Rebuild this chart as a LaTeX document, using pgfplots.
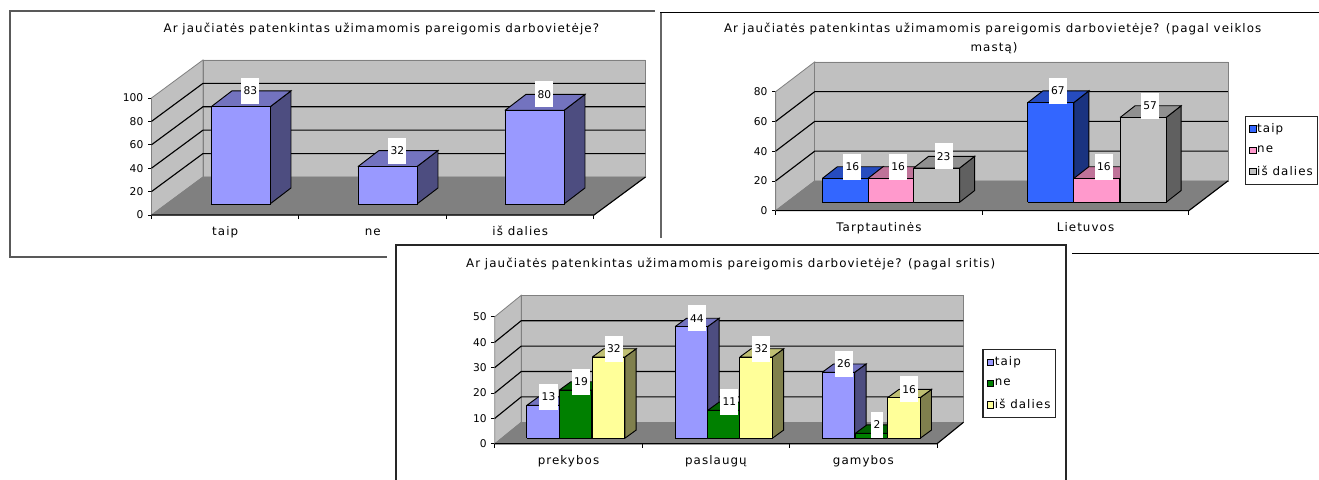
\documentclass[border=0pt]{standalone}
\usepackage{pgfplots}
\pgfplotsset{compat=1.18}
\usepackage{fontspec}
\setmainfont{DejaVu Sans}
\newfontfamily\widefont[LetterSpace=9]{DejaVu Sans}
\newcommand{\chartfont}{\widefont\fontsize{8.9pt}{10pt}\selectfont}
\newcommand{\digitfont}{\normalfont\fontsize{8pt}{9pt}\selectfont}

\definecolor{wallc}{HTML}{C0C0C0}
\definecolor{floorc}{HTML}{808080}
\definecolor{periF}{HTML}{9999FF}\definecolor{periT}{HTML}{7373BF}\definecolor{periS}{HTML}{4D4D80}
\definecolor{blueF}{HTML}{3366FF}\definecolor{blueT}{HTML}{264CBF}\definecolor{blueS}{HTML}{1A3380}
\definecolor{pinkF}{HTML}{FF99CC}\definecolor{pinkT}{HTML}{BF7399}\definecolor{pinkS}{HTML}{804D66}
\definecolor{grayF}{HTML}{C0C0C0}\definecolor{grayT}{HTML}{909090}\definecolor{grayS}{HTML}{606060}
\definecolor{grenF}{HTML}{008000}\definecolor{grenT}{HTML}{006000}\definecolor{grenS}{HTML}{004000}
\definecolor{yellF}{HTML}{FFFF99}\definecolor{yellT}{HTML}{BFBF73}\definecolor{yellS}{HTML}{80804D}

% Geometry of the current chart: width, height, wall depth, bar width, bar base, bar depth
\newcommand{\setchart}[8]{%
  \def\W{#1}\def\H{#2}\def\dx{#3}\def\dy{#4}\def\barw{#5}\def\base{#6}\def\ddx{#7}\def\ddy{#8}%
  \pgfmathsetmacro\wx{\W+\dx}\pgfmathsetmacro\topy{\H+\dy}}

\pgfplotsset{chart3d/.style={
  clip=false, axis line style={draw=none},
  tick align=outside, xtick pos=bottom, ytick pos=left,
  major x tick style={draw=none}, minor x tick style={black,line width=0.75pt},
  major y tick style={black,line width=0.6pt},
  major tick length=2.6pt, minor tick length=3pt,
  /pgf/number format/assume math mode=true,
  y tick label style={font=\digitfont},
  x tick label style={font=\chartfont,yshift=-3pt,text height=6.6pt,text depth=1.8pt},
  legend cell align=left,
  legend image code/.code={\draw[##1,line width=0.6pt] (0,-2.3pt) rectangle (4.6pt,2.3pt);},
  legend style={font=\chartfont, draw=black!85, line width=0.9pt, anchor=north west,
    row sep=8.6pt, inner xsep=3.2pt, inner ysep=5.2pt, nodes={inner xsep=0.6pt,inner ysep=0pt}},
}}

% Side wall, back wall and floor
\newcommand{\walls}{%
  \addplot[forget plot,fill=wallc,draw=floorc,line width=0.6pt] coordinates {(0,0)(\dx,\dy)(\dx,\topy)(0,\H)(0,0)};
  \addplot[forget plot,fill=wallc,draw=floorc,line width=0.6pt] coordinates {(\dx,\dy)(\wx,\dy)(\wx,\topy)(\dx,\topy)(\dx,\dy)};
  \addplot[forget plot,fill=floorc,draw=floorc,line width=0.4pt] coordinates {(0,0)(\W,0)(\wx,\dy)(\dx,\dy)(0,0)};
}
% One gridline, along the side wall and across the back wall
\newcommand{\gridat}[1]{%
  \pgfmathsetmacro\gy{#1+\dy}%
  \addplot[forget plot,draw=black,line width=0.85pt] coordinates {(0,#1)(\dx,\gy)(\wx,\gy)};
}
\newcommand{\baseline}{%
  \addplot[forget plot,draw=black,line width=0.85pt] coordinates {(0,0)(\W,0)(\wx,\dy)};
}

% A bar with its front, top and side faces, or its value label on the second pass
\newif\iflabelpass
\newcommand{\threedbar}[3]{%
  \pgfmathsetmacro\xa{#1}\pgfmathsetmacro\xb{#1+\barw}%
  \pgfmathsetmacro\xc{\xb+\ddx}\pgfmathsetmacro\xd{\xa+\ddx}%
  \pgfmathsetmacro\yb{\base}\pgfmathsetmacro\yt{\base+#2}%
  \pgfmathsetmacro\ytt{\yt+\ddy}\pgfmathsetmacro\ybb{\yb+\ddy}%
  \iflabelpass
    \pgfmathsetmacro\lx{\xa+0.5*\barw+0.47*\ddx}%
    \addplot[forget plot,draw=none,mark=none,point meta=explicit symbolic,
      nodes near coords,
      every node near coord/.style={fill=white,anchor=center,inner xsep=1.7pt,inner ysep=0pt,
        minimum height=19.5pt,font=\digitfont}]
      coordinates {(\lx,\ytt)[#2]};
  \else
    \addplot[forget plot,fill=#3S,draw=black,line width=0.7pt] coordinates {(\xb,\yb)(\xc,\ybb)(\xc,\ytt)(\xb,\yt)(\xb,\yb)};
    \addplot[forget plot,fill=#3T,draw=black,line width=0.7pt] coordinates {(\xa,\yt)(\xb,\yt)(\xc,\ytt)(\xd,\ytt)(\xa,\yt)};
    \addplot[forget plot,fill=#3F,draw=black,line width=0.7pt] coordinates {(\xa,\yb)(\xb,\yb)(\xb,\yt)(\xa,\yt)(\xa,\yb)};
  \fi
}
\newcommand{\bothpasses}[1]{\labelpassfalse #1\labelpasstrue #1}

\newcommand{\barsA}{%
  \threedbar{59.5}{83}{peri}\threedbar{206.5}{32}{peri}\threedbar{353.5}{80}{peri}}
\newcommand{\barsB}{%
  \threedbar{46.7}{16}{blue}\threedbar{92.4}{16}{pink}\threedbar{138}{23}{gray}%
  \threedbar{252.2}{67}{blue}\threedbar{298.2}{16}{pink}\threedbar{344.5}{57}{gray}}
\newcommand{\barsC}{%
  \threedbar{32.1}{13}{peri}\threedbar{64.6}{19}{gren}\threedbar{97.5}{32}{yell}%
  \threedbar{180.4}{44}{peri}\threedbar{212.9}{11}{gren}\threedbar{245}{32}{yell}%
  \threedbar{327.4}{26}{peri}\threedbar{360.6}{2}{gren}\threedbar{392.8}{16}{yell}}

\begin{document}
\begin{tikzpicture}[font=\chartfont]
\path[use as bounding box,clip] (0,0) rectangle (989.25pt,-359.25pt);
\fill[white] (0,0) rectangle (989.25pt,-359.25pt);

% Frames of the first two charts
\draw[line width=1.4pt,color=black!65] (491pt,-8.3pt) -- (7.6pt,-8.3pt) -- (7.6pt,-192.8pt) -- (290pt,-192.8pt);
\draw[line width=1.4pt,color=black!60] (495.8pt,-9.6pt) -- (495.8pt,-178.5pt);
\draw[line width=1pt] (495pt,-9.6pt) -- (992pt,-9.6pt);
\draw[line width=0.9pt] (804pt,-190pt) -- (992pt,-190pt);

\node at (286pt,-21.5pt) {Ar jaučiatės patenkintas užimamomis pareigomis darbovietėje?};
\node at (744.5pt,-21.5pt) {Ar jaučiatės patenkintas užimamomis pareigomis darbovietėje? (pagal veiklos};
\node at (745.5pt,-36pt) {mastą)};

% Overall answers
\begin{axis}[chart3d, at={(113.6pt,-161.25pt)}, anchor=south west,
  x=0.75pt, y=0.8775pt, xmin=0, xmax=494, ymin=0, ymax=132.5,
  ytick={0,20,40,60,80,100},
  xtick={73.75,221.25,368.75}, xticklabels={taip,ne,iš dalies},
  minor xtick={0,147.5,295,442.5}]
\setchart{442.5}{100}{51.5}{32.5}{59}{9.4}{21}{13.7}
\walls
\gridat{20}\gridat{40}\gridat{60}\gridat{80}
\baseline
\bothpasses{\barsA}
\end{axis}

% Answers by scope of activity
\begin{axis}[chart3d, at={(581.7pt,-158pt)}, anchor=south west,
  x=0.75pt, y=1.1156pt, xmin=0, xmax=452.3, ymin=0, ymax=100,
  ytick={0,20,40,60,80},
  xtick={103.3,309.9}, xticklabels={Tarptautinės,Lietuvos},
  minor xtick={0,206.6,413.2},
  legend style={at={(axis cs:469,63.7)}}]
\setchart{413.2}{80}{39.1}{20}{46}{5.65}{15}{7.87}
\walls
\gridat{20}\gridat{40}\gridat{60}
\baseline
\bothpasses{\barsB}
\addlegendimage{fill=blueF}\addlegendentry{taip}
\addlegendimage{fill=pinkF}\addlegendentry{ne}
\addlegendimage{fill=grayF}\addlegendentry{iš dalies}
\end{axis}

% Third chart sits on top of the other frames
\filldraw[fill=white,draw=black!85,line width=1pt] (297pt,-183.75pt) rectangle (799.5pt,-370pt);
\node at (548pt,-198pt) {Ar jaučiatės patenkintas užimamomis pareigomis darbovietėje? (pagal sritis)};

% Answers by field of activity
\begin{axis}[chart3d, at={(371.1pt,-332.8pt)}, anchor=south west,
  x=0.75pt, y=1.905pt, xmin=0, xmax=468.6, ymin=0, ymax=58.43,
  ytick={0,10,20,30,40,50},
  xtick={73.7,221.1,368.5}, xticklabels={prekybos,paslaugų,gamybos},
  minor xtick={0,147.4,294.8,442.2},
  legend style={at={(axis cs:487.5,37.3)}}]
\setchart{442.2}{50}{26.4}{8.43}{32.5}{2.13}{11.4}{3.27}
\walls
\gridat{10}\gridat{20}\gridat{30}\gridat{40}
\baseline
\bothpasses{\barsC}
\addlegendimage{fill=periF}\addlegendentry{taip}
\addlegendimage{fill=grenF}\addlegendentry{ne}
\addlegendimage{fill=yellF}\addlegendentry{iš dalies}
\end{axis}
\end{tikzpicture}
\end{document}
